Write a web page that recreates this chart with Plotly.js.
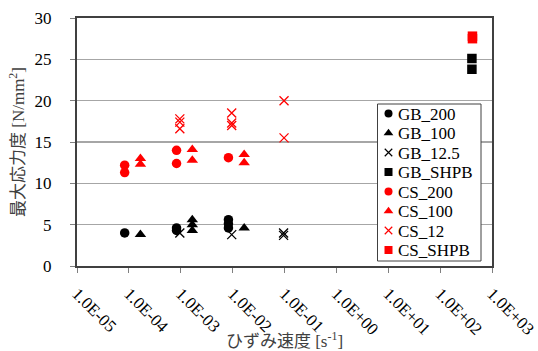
<!DOCTYPE html>
<html>
<head>
<meta charset="utf-8">
<script src="https://cdn.plot.ly/plotly-3.0.1.min.js"></script>
<style>html,body{margin:0;padding:0;background:#fff;}#chart{width:538px;height:351px;}</style>
</head>
<body>
<div id="chart"></div>
<script>
// ---- data (strain rate [1/s], max stress [N/mm2]) ----
var gb200_x = [8.3e-5, 8.3e-4, 8.3e-4, 8.3e-3, 8.3e-3, 8.3e-3];
var gb200_y = [4.0, 4.6, 4.3, 5.6, 5.1, 4.6];
var gb100_x = [1.67e-4, 1.67e-3, 1.67e-3, 1.67e-3, 1.67e-2];
var gb100_y = [3.8, 5.6, 5.0, 4.3, 4.6];
var gb125_x = [9.6e-4, 9.6e-3, 9.6e-2, 9.6e-2];
var gb125_y = [4.0, 3.8, 4.0, 3.7];
var gbshpb_x = [410, 410];
var gbshpb_y = [25.1, 23.8];
var cs200_x = [8.3e-5, 8.3e-5, 8.3e-4, 8.3e-4, 8.3e-3];
var cs200_y = [12.2, 11.3, 14.0, 12.4, 13.1];
var cs100_x = [1.67e-4, 1.67e-4, 1.67e-3, 1.67e-3, 1.67e-2, 1.67e-2];
var cs100_y = [13.0, 12.3, 14.1, 12.8, 13.5, 12.5];
var cs12_x = [9.6e-4, 9.6e-4, 9.6e-4, 9.6e-3, 9.6e-3, 9.6e-3, 9.8e-2, 9.8e-2];
var cs12_y = [17.8, 17.4, 16.6, 18.5, 17.3, 17.0, 20.0, 15.5];
var csshpb_x = [420, 420];
var csshpb_y = [27.8, 27.5];

var seriesNames = ['GB_200', 'GB_100', 'GB_12.5', 'GB_SHPB', 'CS_200', 'CS_100', 'CS_12', 'CS_SHPB'];
var xTickVals = [1e-5, 1e-4, 1e-3, 1e-2, 1e-1, 1e0, 1e1, 1e2, 1e3];
var xTickText = ['1.0E-05', '1.0E-04', '1.0E-03', '1.0E-02', '1.0E-01', '1.0E+00', '1.0E+01', '1.0E+02', '1.0E+03'];
var yTickVals = [0, 5, 10, 15, 20, 25, 30];

// ---- styles ----
var BLACK = '#000000', RED = '#ff0000';
var styles = [
  {symbol: 'circle', color: BLACK, size: 9.5},
  {symbol: 'triangle-up', color: BLACK, size: 10},
  {symbol: 'x-thin', color: BLACK, size: 9},
  {symbol: 'square', color: BLACK, size: 9.5},
  {symbol: 'circle', color: RED, size: 9.5},
  {symbol: 'triangle-up', color: RED, size: 10},
  {symbol: 'x-thin', color: RED, size: 9},
  {symbol: 'square', color: RED, size: 9.5}
];
var xs = [gb200_x, gb100_x, gb125_x, gbshpb_x, cs200_x, cs100_x, cs12_x, csshpb_x];
var ys = [gb200_y, gb100_y, gb125_y, gbshpb_y, cs200_y, cs100_y, cs12_y, csshpb_y];

var FONT = 'Liberation Serif, Times New Roman, Noto Sans CJK JP, serif';

var traces = [];
for (var i = 0; i < seriesNames.length; i++) {
  var s = styles[i];
  var thin = s.symbol.indexOf('thin') >= 0;
  traces.push({
    type: 'scatter', mode: 'markers', name: seriesNames[i],
    x: xs[i], y: ys[i], showlegend: false, cliponaxis: false,
    marker: {symbol: s.symbol, size: s.size, color: s.color,
             line: {width: thin ? 1.3 : 0, color: s.color}}
  });
}

// ---- custom legend (pixel overlay axes) ----
var W = 538, H = 351, ML = 77, MR = 46, MT = 18, MB = 85;
var legLeft = 377.5, legTop = 104, legRight = 481, legBottom = 261;
var rowTop = 113.5, rowGap = 19.5, symX = 388.5, textX = 395.5;
// legend box drawn as a filled outline on the overlay axes (above gridlines, below legend symbols)
traces.push({
  type: 'scatter', mode: 'lines', xaxis: 'x2', yaxis: 'y2', showlegend: false, hoverinfo: 'skip',
  x: [legLeft, legRight, legRight, legLeft, legLeft],
  y: [legTop, legTop, legBottom, legBottom, legTop],
  fill: 'toself', fillcolor: '#ffffff', line: {color: '#404040', width: 1}
});
var annotations = [];
for (var j = 0; j < seriesNames.length; j++) {
  var yy = rowTop + j * rowGap;
  traces.push({
    type: 'scatter', mode: 'markers', xaxis: 'x2', yaxis: 'y2', showlegend: false, hoverinfo: 'skip',
    x: [symX], y: [yy],
    marker: {symbol: styles[j].symbol, size: styles[j].size - 1.5, color: styles[j].color,
             line: {width: styles[j].symbol.indexOf('thin') >= 0 ? 1.2 : 0, color: styles[j].color}}
  });
  annotations.push({
    xref: 'x2', yref: 'y2', x: textX, y: yy + 0.5, text: seriesNames[j], showarrow: false,
    xanchor: 'left', yanchor: 'middle', font: {family: FONT, size: 17, color: '#000'}
  });
}

var layout = {
  width: W, height: H,
  margin: {l: ML, r: MR, t: MT, b: MB, pad: 0},
  paper_bgcolor: '#fff', plot_bgcolor: '#fff',
  font: {family: FONT, size: 17, color: '#000'},
  xaxis: {
    type: 'log', range: [-5, 3], tickvals: xTickVals, ticktext: xTickText,
    tickangle: 45, ticks: 'outside', ticklen: 5, tickcolor: '#808080', tickwidth: 1,
    ticklabelstandoff: 4,
    showgrid: false, zeroline: false, showline: true, mirror: true,
    linecolor: '#404040', linewidth: 2,
    tickfont: {family: FONT, size: 17, color: '#000'},
    title: {text: 'ひずみ速度 [s<sup>-1</sup>]', font: {family: FONT, size: 17, color: '#404040'}, standoff: 3}
  },
  yaxis: {
    range: [0, 30], tickvals: yTickVals, ticks: 'outside', ticklen: 5, tickcolor: '#808080',
    ticklabelstandoff: 15,
    showgrid: true, gridcolor: '#a6a6a6', gridwidth: 1.2, zeroline: false,
    showline: true, mirror: true, linecolor: '#404040', linewidth: 2,
    tickfont: {family: FONT, size: 17, color: '#000'},
    title: {text: '最大応力度 [N/mm<sup>2</sup>]', font: {family: FONT, size: 17, color: '#404040'}, standoff: 6}
  },
  xaxis2: {overlaying: 'x', range: [ML, W - MR], visible: false, fixedrange: true},
  yaxis2: {overlaying: 'y', range: [H - MB, MT], visible: false, fixedrange: true},
  annotations: annotations,
  showlegend: false
};

Plotly.newPlot('chart', traces, layout, {displayModeBar: false, staticPlot: true});
</script>
</body>
</html>
